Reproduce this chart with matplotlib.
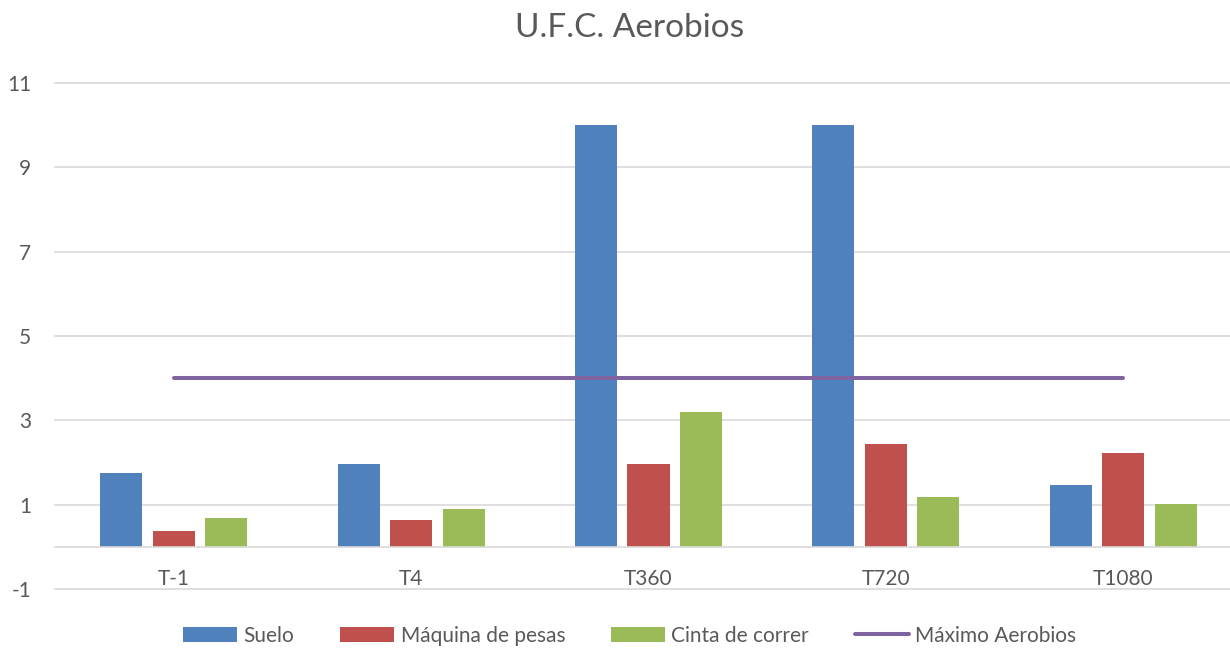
import numpy as np
import matplotlib.pyplot as plt

# Data
categories = ["T-1", "T4", "T360", "T720", "T1080"]
suelo = [1.75, 1.96, 10.0, 10.0, 1.46]
maquina = [0.39, 0.64, 1.96, 2.44, 2.23]
cinta = [0.70, 0.90, 3.20, 1.18, 1.03]
maximo = [4, 4, 4, 4, 4]

series_names = ["Suelo", "Máquina de pesas", "Cinta de correr"]
colors = ["#4F81BD", "#C0504D", "#9BBB59"]
line_color = "#8064A2"
text_color = "#595959"
grid_color = "#D9D9D9"

plt.rcParams["font.family"] = ["Lato", "DejaVu Sans"]
plt.rcParams["axes.unicode_minus"] = False


def main():
    fig = plt.figure(figsize=(12.3, 6.5), dpi=100)
    ax = fig.add_axes([55 / 1230, 60.7 / 650, 1187 / 1230, 506.6 / 650])

    x = np.arange(len(categories))
    width = 0.177
    step = 0.221
    handles = []
    for i, (vals, name, col) in enumerate(zip([suelo, maquina, cinta], series_names, colors)):
        b = ax.bar(x + (i - 1) * step, vals, width, color=col, label=name, zorder=2)
        handles.append(b)

    ln, = ax.plot(x, maximo, color=line_color, linewidth=2.9, solid_capstyle="round",
                  label="Máximo Aerobios", zorder=3)
    handles.append(ln)

    ax.set_xlim(-0.5, len(categories) - 0.5)
    ax.set_ylim(-1, 11)
    ax.set_yticks(np.arange(-1, 12, 2))
    ax.set_xticks(x)
    ax.set_xticklabels(categories)

    ax.grid(axis="y", color=grid_color, linewidth=1.2, zorder=0)
    for g in ax.get_ygridlines():
        g.set_clip_on(False)
    for s in ["top", "right", "left"]:
        ax.spines[s].set_visible(False)
    ax.spines["bottom"].set_position(("data", 0))
    ax.spines["bottom"].set_color(grid_color)
    ax.spines["bottom"].set_linewidth(1.2)

    ax.tick_params(axis="both", length=0, labelsize=15, labelcolor=text_color)
    ax.tick_params(axis="x", pad=16)
    ax.tick_params(axis="y", pad=17)

    fig.text(0.512, 0.957, "U.F.C. Aerobios", ha="center", va="center",
             fontsize=24, color=text_color)

    leg = fig.legend(handles=handles, loc="center", bbox_to_anchor=(0.512, 0.022),
                     ncol=4, frameon=False, fontsize=15, handlelength=2.6,
                     handletextpad=0.3, columnspacing=2.2, borderpad=0)
    for t in leg.get_texts():
        t.set_color(text_color)

    fig.savefig("out.png", dpi=100)


if __name__ == "__main__":
    main()
